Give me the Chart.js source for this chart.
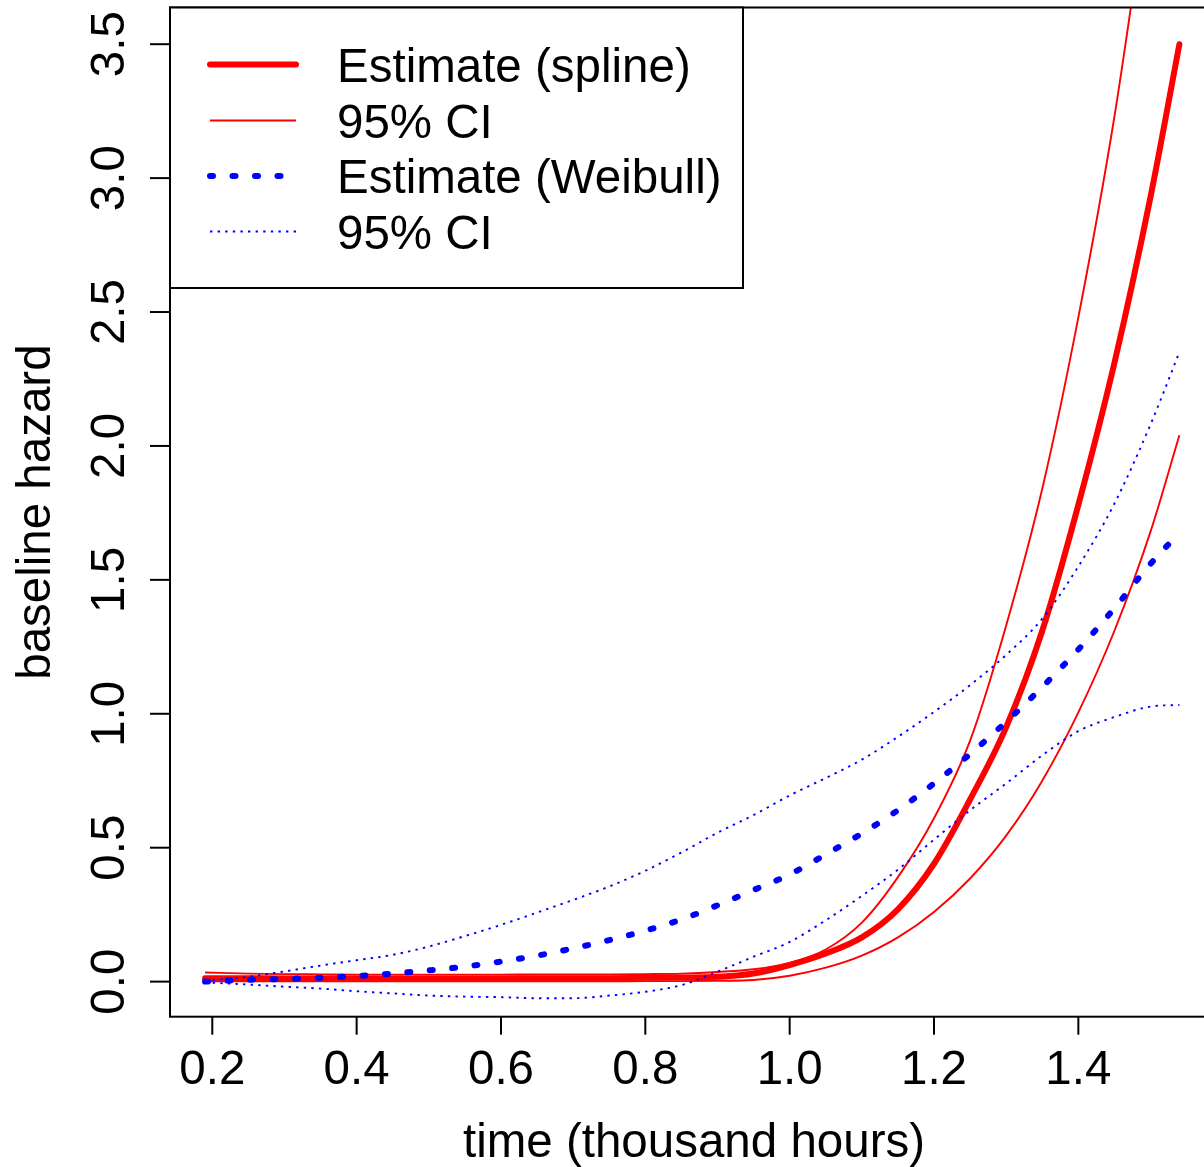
<!DOCTYPE html>
<html>
<head>
<meta charset="utf-8">
<script src="https://cdn.jsdelivr.net/npm/chart.js@4.4.1/dist/chart.umd.min.js"></script>
<style>
  html, body { margin: 0; padding: 0; background: #fff; overflow: hidden; }
  #wrap { width: 1220px; height: 1167px; position: relative; }
</style>
</head>
<body>
<div id="wrap"><canvas id="c" width="1220" height="1167"></canvas></div>
<script>
// ---- data ----
const timeGrid = [0.19, 0.25, 0.3, 0.35, 0.4, 0.45, 0.5, 0.55, 0.6, 0.65, 0.7, 0.75, 0.8, 0.85,
                  0.9, 0.95, 1.0, 1.05, 1.1, 1.15, 1.2, 1.25, 1.3, 1.35, 1.4, 1.45, 1.5, 1.54];

const splineEst = [0.013, 0.013, 0.012, 0.012, 0.012, 0.012, 0.012, 0.012, 0.012, 0.013, 0.013, 0.013, 0.014, 0.015,
                   0.018, 0.030, 0.062, 0.105, 0.165, 0.27, 0.44, 0.68, 0.95, 1.31, 1.78, 2.31, 2.93, 3.50];
const splineHi  = [0.034, 0.030, 0.028, 0.027, 0.026, 0.026, 0.026, 0.026, 0.026, 0.027, 0.027, 0.027, 0.028, 0.030,
                   0.036, 0.046, 0.070, 0.120, 0.220, 0.39, 0.61, 0.90, 1.33, 1.84, 2.48, 3.23, 4.15, 4.90];
const splineLo  = [0.001, 0.001, 0.001, 0.001, 0.001, 0.001, 0.001, 0.001, 0.001, 0.001, 0.001, 0.001, 0.002, 0.002,
                   0.003, 0.006, 0.022, 0.052, 0.097, 0.165, 0.26, 0.385, 0.545, 0.75, 1.005, 1.31, 1.68, 2.04];

const weibullEst = [0.000, 0.007, 0.010, 0.014, 0.021, 0.030, 0.042, 0.056, 0.075, 0.097, 0.124, 0.155, 0.190, 0.232,
                    0.285, 0.342, 0.400, 0.475, 0.553, 0.640, 0.740, 0.850, 0.970, 1.100, 1.240, 1.394, 1.560, 1.675];
const weibullHi  = [0.003, 0.018, 0.038, 0.060, 0.080, 0.100, 0.131, 0.170, 0.212, 0.258, 0.305, 0.355, 0.414, 0.482,
                    0.556, 0.622, 0.695, 0.760, 0.829, 0.914, 1.007, 1.107, 1.220, 1.355, 1.550, 1.785, 2.080, 2.350];
const weibullLo  = [-0.003, -0.011, -0.019, -0.026, -0.036, -0.044, -0.052, -0.056, -0.058, -0.062, -0.062, -0.052, -0.038, -0.013,
                    0.037, 0.093, 0.148, 0.229, 0.320, 0.418, 0.530, 0.640, 0.740, 0.845, 0.935, 0.988, 1.027, 1.033];

const xTicks = [0.2, 0.4, 0.6, 0.8, 1.0, 1.2, 1.4];
const xTickLabels = ['0.2', '0.4', '0.6', '0.8', '1.0', '1.2', '1.4'];
const yTicks = [0, 0.5, 1.0, 1.5, 2.0, 2.5, 3.0, 3.5];
const yTickLabels = ['0.0', '0.5', '1.0', '1.5', '2.0', '2.5', '3.0', '3.5'];

const legendLabels = ['Estimate (spline)', '95% CI', 'Estimate (Weibull)', '95% CI'];
const xTitle = 'time (thousand hours)';
const yTitle = 'baseline hazard';

// ---- styles ----
const RED = '#ff0000', BLUE = '#0000ff';
const styles = {
  sEst: { color: RED, width: 6, dash: [], cap: 'round' },
  sCI:  { color: RED, width: 1.9, dash: [], cap: 'butt' },
  wEst: { color: BLUE, width: 6, dash: [3, 19.5], cap: 'round' },
  wCI:  { color: BLUE, width: 1.9, dash: [2.4, 5.2], cap: 'butt' }
};
const FONT = '"Liberation Sans", Arial, Helvetica, sans-serif';
const FONT_SIZE = 47.5;

function pts(ys) { return timeGrid.map((t, i) => ({ x: t, y: ys[i] })); }
function ds(label, ys, st, order) {
  return {
    label, data: pts(ys), order,
    borderColor: st.color, borderWidth: st.width, borderDash: st.dash,
    borderCapStyle: st.cap, borderJoinStyle: 'round',
    pointRadius: 0, fill: false, cubicInterpolationMode: 'monotone'
  };
}

const rPlot = {
  id: 'rPlot',
  afterDraw(chart) {
    const { ctx, chartArea: a, scales: { x, y } } = chart;
    ctx.save();
    // box
    ctx.strokeStyle = '#000';
    ctx.lineWidth = 2;
    ctx.setLineDash([]);
    ctx.strokeRect(a.left, a.top, a.right - a.left, a.bottom - a.top);

    ctx.fillStyle = '#000';
    ctx.font = FONT_SIZE + 'px ' + FONT;
    // x axis ticks + labels
    ctx.textAlign = 'center';
    ctx.textBaseline = 'alphabetic';
    xTicks.forEach((v, i) => {
      const px = x.getPixelForValue(v);
      ctx.beginPath(); ctx.moveTo(px, a.bottom); ctx.lineTo(px, a.bottom + 18); ctx.stroke();
      ctx.fillText(xTickLabels[i], px, a.bottom + 67);
    });
    // y axis ticks + rotated labels
    yTicks.forEach((v, i) => {
      const py = y.getPixelForValue(v);
      ctx.beginPath(); ctx.moveTo(a.left, py); ctx.lineTo(a.left - 20, py); ctx.stroke();
      ctx.save();
      ctx.translate(a.left - 46, py);
      ctx.rotate(-Math.PI / 2);
      ctx.fillText(yTickLabels[i], 0, 0);
      ctx.restore();
    });
    // titles
    ctx.fillText(xTitle, (a.left + a.right) / 2, 1157);
    ctx.save();
    ctx.translate(50, (a.top + a.bottom) / 2);
    ctx.rotate(-Math.PI / 2);
    ctx.fillText(yTitle, 0, 0);
    ctx.restore();

    // legend
    const lx = a.left, ly = a.top, lw = 573, lh = 280.5;
    ctx.fillStyle = '#fff';
    ctx.fillRect(lx, ly, lw, lh);
    ctx.strokeStyle = '#000';
    ctx.lineWidth = 2;
    ctx.strokeRect(lx, ly, lw, lh);
    const rows = [64.5, 120.5, 176, 231.5];
    const st = [styles.sEst, styles.sCI, styles.wEst, styles.wCI];
    rows.forEach((ry, i) => {
      const s = st[i];
      ctx.save();
      ctx.strokeStyle = s.color;
      ctx.lineWidth = s.width;
      ctx.lineCap = s.cap;
      ctx.setLineDash(s.dash);
      ctx.beginPath(); ctx.moveTo(lx + 40, ry); ctx.lineTo(lx + 126, ry); ctx.stroke();
      ctx.restore();
      ctx.fillStyle = '#000';
      ctx.textAlign = 'left';
      ctx.fillText(legendLabels[i], 337, ry + 17);
    });
    ctx.restore();
  }
};

new Chart(document.getElementById('c'), {
  type: 'line',
  data: {
    datasets: [
      ds('Estimate (spline)', splineEst, styles.sEst, 6),
      ds('95% CI upper (spline)', splineHi, styles.sCI, 5),
      ds('95% CI lower (spline)', splineLo, styles.sCI, 4),
      ds('Estimate (Weibull)', weibullEst, styles.wEst, 3),
      ds('95% CI upper (Weibull)', weibullHi, styles.wCI, 2),
      ds('95% CI lower (Weibull)', weibullLo, styles.wCI, 1)
    ]
  },
  options: {
    responsive: false,
    animation: false,
    devicePixelRatio: 1,
    layout: { padding: { left: 170, top: 7.5, right: 2, bottom: 150.3 } },
    plugins: { legend: { display: false }, tooltip: { enabled: false } },
    scales: {
      x: { type: 'linear', min: 0.1414, max: 1.5935, display: false },
      y: { type: 'linear', min: -0.131, max: 3.637, display: false }
    }
  },
  plugins: [rPlot]
});
</script>
</body>
</html>
